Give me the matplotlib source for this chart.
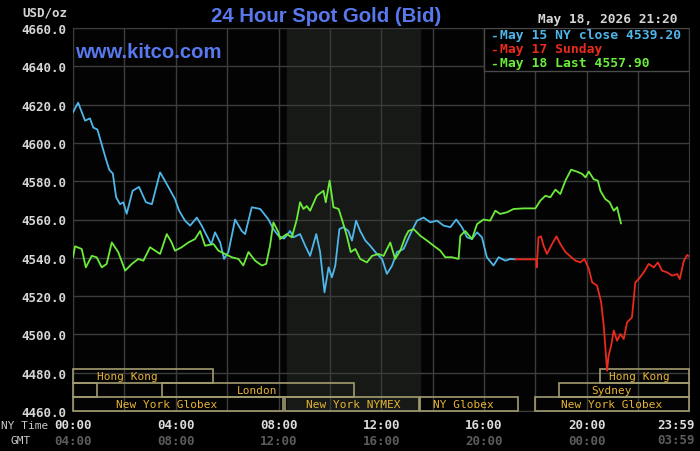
import matplotlib
matplotlib.use("Agg")
import matplotlib.pyplot as plt
from matplotlib.patches import Rectangle

# hours after 00:00 NY time, price in USD/oz
may15_hours = [0, 0.2, 0.47, 0.66, 0.79, 0.95, 1.25, 1.41, 1.55, 1.68, 1.83, 1.96, 2.09, 2.32,
               2.57, 2.84, 3.07, 3.39, 3.65, 3.97, 4.13, 4.36, 4.56, 4.82, 5.01, 5.21, 5.38,
               5.53, 5.73, 5.88, 6.05, 6.31, 6.57, 6.7, 6.96, 7.29, 7.61, 7.8, 8.0, 8.22, 8.45,
               8.58, 8.84, 9.04, 9.23, 9.47, 9.62, 9.79, 9.95, 10.08, 10.21, 10.37, 10.53,
               10.72, 10.86, 11.02, 11.18, 11.38, 11.57, 11.83, 12.03, 12.22, 12.42, 12.61,
               12.87, 13.13, 13.39, 13.65, 13.91, 14.17, 14.43, 14.69, 14.92, 15.14, 15.34,
               15.53, 15.73, 15.92, 16.11, 16.37, 16.57, 16.83, 17.02, 17.22]
may15_price = [4616, 4621, 4611.6, 4612.8, 4608, 4607, 4593, 4586, 4584, 4571.6, 4568, 4569,
               4563, 4575, 4577, 4569, 4568, 4584.6, 4578.5, 4570.7, 4564.6, 4559.4, 4556.8,
               4561, 4556.8, 4551.5, 4547, 4553.3, 4548, 4539.4, 4543, 4560, 4554, 4552.4,
               4566.4, 4565.5, 4560, 4555, 4551.5, 4550, 4554, 4550.7, 4552.4, 4546.3, 4541,
               4552.4, 4543, 4522, 4535, 4529.8, 4535.9, 4555, 4556, 4554, 4549, 4559.4, 4554,
               4549, 4546.3, 4542, 4539.4, 4531.6, 4535.9, 4543, 4544.6, 4552.4, 4559.4, 4561,
               4558.5, 4559.4, 4556.8, 4556, 4560, 4556, 4550.7, 4549.8, 4553.3, 4550.7,
               4540.3, 4536, 4540.3, 4538.5, 4539.4, 4539.2]

may17_hours = [17.22, 18.04, 18.05, 18.12, 18.22, 18.32, 18.45, 18.65, 18.82, 18.97, 19.17,
               19.36, 19.56, 19.75, 19.91, 20.08, 20.21, 20.4, 20.56, 20.66, 20.72, 20.79,
               20.85, 20.95, 21.05, 21.18, 21.31, 21.44, 21.57, 21.76, 21.89, 22.02, 22.22,
               22.41, 22.61, 22.77, 22.93, 23.13, 23.32, 23.52, 23.62, 23.78, 23.91, 23.98]
may17_price = [4539.2, 4539.2, 4535, 4550.7, 4551.2, 4546.3, 4542, 4547.2, 4551.2, 4547.2,
               4543, 4540.8, 4538.5, 4537.6, 4539.4, 4534.2, 4527.2, 4525.5, 4516.8, 4504.6,
               4494.1, 4481, 4488.9, 4494.1, 4502, 4496.7, 4500.2, 4497.6, 4506.3, 4508.9,
               4527.2, 4528.9, 4532.4, 4536.8, 4535, 4537.6, 4533.3, 4532.4, 4530.7, 4531.5,
               4528.9, 4538.5, 4541.5, 4540.8]

may18_hours = [0, 0.08, 0.34, 0.5, 0.73, 0.92, 1.12, 1.31, 1.51, 1.76, 2.03, 2.29, 2.54, 2.74,
               3.0, 3.39, 3.65, 3.84, 3.97, 4.23, 4.49, 4.75, 4.95, 5.14, 5.47, 5.66, 5.92,
               6.18, 6.44, 6.63, 6.83, 7.09, 7.35, 7.52, 7.67, 7.8, 8.0,
               8.06, 8.32, 8.52, 8.71, 8.84, 8.97, 9.1, 9.23, 9.49, 9.75, 9.84, 9.99, 10.14,
               10.34, 10.47, 10.66, 10.81, 10.99, 11.18, 11.44, 11.64, 11.89, 12.09, 12.35,
               12.54, 12.74, 12.93, 13.06, 13.26, 13.52, 13.78, 14.04, 14.3, 14.49, 14.75,
               15.01, 15.08, 15.27, 15.53, 15.73, 15.98, 16.24, 16.44, 16.63, 16.9, 17.15,
               17.54, 18.0, 18.19, 18.39, 18.58, 18.78, 18.97, 19.17, 19.39, 19.62, 19.82,
               19.95, 20.08, 20.27, 20.43, 20.53, 20.72, 20.89, 21.05, 21.18, 21.33]
may18_price = [4540.3, 4546, 4544.6, 4535, 4541, 4540.3, 4535, 4536.8, 4548, 4543, 4533.3,
               4536.8, 4539.4, 4538.5, 4545.5, 4542, 4552.4, 4548, 4543.7, 4545.5, 4548,
               4549.8, 4554, 4546.3, 4547.2, 4543.7, 4542, 4540.3, 4539.4, 4536, 4543, 4538.5,
               4536, 4536.8, 4546.3, 4558.5, 4553.3,
               4549.8, 4552.4, 4550.7, 4560, 4569, 4565.5, 4567, 4564.6, 4572.4, 4575, 4569,
               4580.3, 4566.4, 4565.5, 4560, 4551.5, 4543, 4544.6, 4539.4, 4537.6, 4541, 4542,
               4541, 4548, 4539.4, 4543.7, 4550.7, 4554, 4555, 4551.5, 4549, 4546.3, 4543.7,
               4540.3, 4540.3, 4539.4, 4551.5, 4554, 4549.8, 4557.6, 4560, 4559.4, 4564.6,
               4562.9, 4563.8, 4565.5, 4565.8, 4565.8, 4569.8, 4572.4, 4571.6, 4575.6, 4573.3,
               4580.3, 4586, 4585, 4583.8, 4582, 4585, 4581, 4580.3, 4575, 4570.7, 4569,
               4564.6, 4566.4, 4558]

legend_labels = ["May 15 NY close 4539.20", "May 17 Sunday", "May 18 Last 4557.90"]
series_colors = ["#4fb6ea", "#ea2a1c", "#6cec3a"]

y_ticks = [4460, 4480, 4500, 4520, 4540, 4560, 4580, 4600, 4620, 4640, 4660]
ny_labels = ["00:00", "04:00", "08:00", "12:00", "16:00", "20:00"]
gmt_labels = ["04:00", "08:00", "12:00", "16:00", "20:00", "00:00"]
tick_hours = [0, 4, 8, 12, 16, 20]

# trading sessions: (name, start hour, end hour, row, label hour)
sessions = [
    ("Hong Kong", 0, 5.45, 2, 2.1),
    ("Hong Kong", 20.5, 23.98, 2, 22.05),
    ("", 0, 0.94, 1, 0),
    ("London", 3.47, 10.95, 1, 7.16),
    ("Sydney", 18.93, 23.98, 1, 20.96),
    ("New York Globex", 0, 8.17, 0, 3.64),
    ("New York NYMEX", 8.26, 13.47, 0, 10.9),
    ("NY Globex", 13.52, 17.32, 0, 15.19),
    ("New York Globex", 18.0, 23.98, 0, 20.96),
]
comex_start, comex_end = 8.33, 13.5

mono = "DejaVu Sans Mono"
fig = plt.figure(figsize=(7, 4.52), dpi=100, facecolor="black")
ax = fig.add_axes([73 / 700, 40 / 452, 616 / 700, 383 / 452])
ax.set_facecolor("#030303")

ax.axvspan(comex_start, comex_end, color="#161916", zorder=0)

ax.set_xlim(0, 23.98)
ax.set_ylim(4460, 4660)
ax.set_xticks(range(0, 24, 2))
ax.set_yticks(y_ticks)
ax.set_yticklabels(["%.1f" % v for v in y_ticks])
ax.tick_params(axis="x", length=0, labelbottom=False)
ax.tick_params(axis="y", length=0, pad=5, colors="#d6d6d6")
for lab in ax.get_yticklabels():
    lab.set_fontfamily(mono)
    lab.set_fontweight("bold")
    lab.set_fontsize(9)
ax.grid(True, color="#3c3c3c", linewidth=1, zorder=1)
ax.set_axisbelow(True)
for sp in ax.spines.values():
    sp.set_color("#3c3c3c")

# session boxes along the bottom
row_h = 14 / 383
trans = ax.get_xaxis_transform()
for name, start, end, row, lx in sessions:
    ax.add_patch(Rectangle((start, row * row_h), end - start, row_h, transform=trans,
                           fill=False, edgecolor="#a29c70", linewidth=1.2, zorder=3,
                           clip_on=False))
    if name:
        ax.text(lx, (row + 0.5) * row_h, name, transform=trans, ha="center", va="center",
                color="#e6b432", fontfamily=mono, fontsize=8, zorder=4)

ax.plot(may15_hours, may15_price, color=series_colors[0], linewidth=1.3, zorder=5)
ax.plot(may18_hours, may18_price, color=series_colors[2], linewidth=1.3, zorder=5)
ax.plot(may17_hours, may17_price, color=series_colors[1], linewidth=1.3, zorder=6)

# legend box top right
leg_x0 = (484 - 73) / 616
leg_y0 = (412 - 72) / 383
ax.add_patch(Rectangle((leg_x0, leg_y0), 1 - leg_x0, 1 - leg_y0, transform=ax.transAxes,
                       facecolor="black", edgecolor="#4a4a4a", linewidth=1, zorder=7))
for i, (lab, col) in enumerate(zip(legend_labels, series_colors)):
    y = 1 - (36 + 14 * i) / 452
    fig.text(490 / 700, y, "-", color=col, fontfamily=mono,
             fontweight="bold", fontsize=9.4, ha="left", va="center", zorder=8)
    fig.text(500 / 700, y, lab, color=col, fontfamily=mono,
             fontweight="bold", fontsize=9.4, ha="left", va="center", zorder=8)

# x labels: NY time and GMT
for h, ny, gmt in zip(tick_hours, ny_labels, gmt_labels):
    ax.annotate(ny, (h, 0), xycoords=trans, xytext=(0, -10), textcoords="offset points",
                ha="center", va="center", color="#dcdcdc", fontfamily=mono,
                fontweight="bold", fontsize=9)
    ax.annotate(gmt, (h, 0), xycoords=trans, xytext=(0, -21), textcoords="offset points",
                ha="center", va="center", color="#5c5c5c", fontfamily=mono,
                fontweight="bold", fontsize=9)
fig.text(695 / 700, 1 - 426 / 452, "23:59", color="#dcdcdc", fontfamily=mono,
         fontweight="bold", fontsize=9, ha="right", va="center")
fig.text(695 / 700, 1 - 441 / 452, "03:59", color="#5c5c5c", fontfamily=mono,
         fontweight="bold", fontsize=9, ha="right", va="center")
fig.text(25 / 700, 1 - 426 / 452, "NY Time", color="#c8c8c8", fontfamily=mono,
         fontsize=8, ha="center", va="center")
fig.text(21 / 700, 1 - 441 / 452, "GMT", color="#c8c8c8", fontfamily=mono,
         fontsize=8, ha="center", va="center")

# header texts
fig.text(326 / 700, 1 - 16 / 452, "24 Hour Spot Gold (Bid)", color="#5878ee",
         fontfamily="Liberation Sans", fontweight="bold", fontsize=14.7,
         ha="center", va="center")
fig.text(75 / 700, 1 - 52 / 452, "www.kitco.com", color="#5878ee",
         fontfamily="Liberation Sans", fontweight="bold", fontsize=14.6,
         ha="left", va="center")
fig.text(67 / 700, 1 - 13 / 452, "USD/oz", color="#d6d6d6", fontfamily=mono,
         fontweight="bold", fontsize=9, ha="right", va="center")
fig.text(677 / 700, 1 - 20 / 452, "May 18, 2026 21:20", color="#d6d6d6", fontfamily=mono,
         fontweight="bold", fontsize=9.3, ha="right", va="center")

fig.savefig("out.png", dpi=100, facecolor="black")
